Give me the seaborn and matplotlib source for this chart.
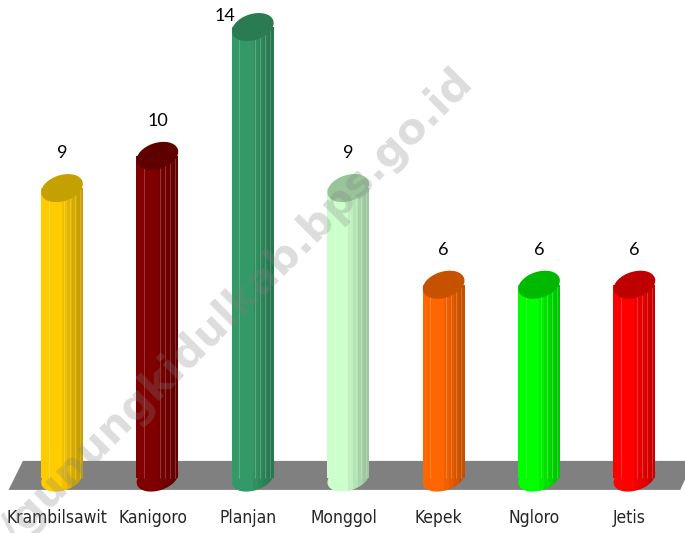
import matplotlib
matplotlib.use("Agg")
import matplotlib.pyplot as plt
import matplotlib.transforms as mtransforms
from matplotlib.patches import Ellipse, Rectangle, Polygon
import seaborn as sns
import pandas as pd

categories = ["Krambilsawit", "Kanigoro", "Planjan", "Monggol", "Kepek", "Ngloro", "Jetis"]
values = [9, 10, 14, 9, 6, 6, 6]
body_colors = ["#FFCC00", "#800000", "#339966", "#CCFFCC", "#FF6600", "#00FF00", "#FF0000"]
cap_colors = ["#C4A000", "#5E0000", "#2A7A52", "#99C499", "#C65200", "#00B800", "#BF0000"]
watermark = "http://gunungkidulkab.bps.go.id"

sns.set_style("white")

df = pd.DataFrame({"kecamatan": categories, "jumlah": values})

fig = plt.figure(figsize=(6.85, 5.33), dpi=100)
ax = fig.add_axes([0, 0, 1, 1])
sns.barplot(data=df, x="kecamatan", y="jumlah", hue="kecamatan",
            palette=body_colors, legend=False, width=0.44, ax=ax,
            saturation=1, linewidth=0, zorder=3)
ax.set_xlim(-0.65, 6.53)
ax.set_ylim(-1.708, 14.84)
ax.axis("off")

# floor
floor = Polygon([(-0.41, 0.53), (6.62, 0.53), (6.48, -0.37), (-0.56, -0.37)],
                closed=True, facecolor="#808080", edgecolor="none", zorder=1)
ax.add_patch(floor)

bw = 0.44
stripes = [(0.50, 0.62, 0.06), (0.62, 0.74, 0.11), (0.74, 0.86, 0.17), (0.86, 1.0, 0.22)]
lines = [0.18, 0.55, 0.68, 0.80, 0.92]

for i, (v, bc, cc) in enumerate(zip(values, body_colors, cap_colors)):
    t = fig.dpi_scale_trans + mtransforms.ScaledTranslation(i, 0, ax.transData)
    bottom = Ellipse((0, 0), 0.43, 0.25, angle=18, transform=t,
                     facecolor=bc, edgecolor="none", zorder=2)
    ax.add_patch(bottom)
    x0 = i - bw / 2
    for a, b, al in stripes:
        r = Rectangle((x0 + a * bw, 0), (b - a) * bw, v, facecolor="black",
                      alpha=al, edgecolor="none", zorder=4)
        ax.add_patch(r)
        r2 = Rectangle((x0 + a * bw, -1.0), (b - a) * bw, 1.0, facecolor="black",
                       alpha=al, edgecolor="none", zorder=4)
        ax.add_patch(r2)
        r2.set_clip_path(bottom)
    for lx in lines:
        ax.plot([x0 + lx * bw, x0 + lx * bw], [0, v], color="white",
                alpha=0.25, lw=0.6, zorder=4)
    tt = fig.dpi_scale_trans + mtransforms.ScaledTranslation(i, v, ax.transData)
    cap = Ellipse((0, 0), 0.43, 0.26, angle=18, transform=tt,
                  facecolor=cc, edgecolor="none", zorder=5)
    ax.add_patch(cap)
    off = (0, 25) if v != max(values) else (-20, 8)
    ax.annotate(str(v), (i, v), xytext=off, textcoords="offset points",
                ha="center", va="center", fontsize=13, family=["Lato", "DejaVu Sans"],
                color="black", zorder=6)
    ax.text(i - 0.05, -1.24, categories[i], ha="center", va="center",
            fontsize=12.5, family="DejaVu Sans", fontstretch="condensed", zorder=6)

ax.text(0.679, 0.861, watermark, transform=ax.transAxes, rotation=45,
        rotation_mode="anchor", ha="right", va="center", fontsize=31,
        fontweight="bold", color="gray", alpha=0.27, zorder=10,
        family="DejaVu Sans")

fig.savefig("out.png", dpi=100)
